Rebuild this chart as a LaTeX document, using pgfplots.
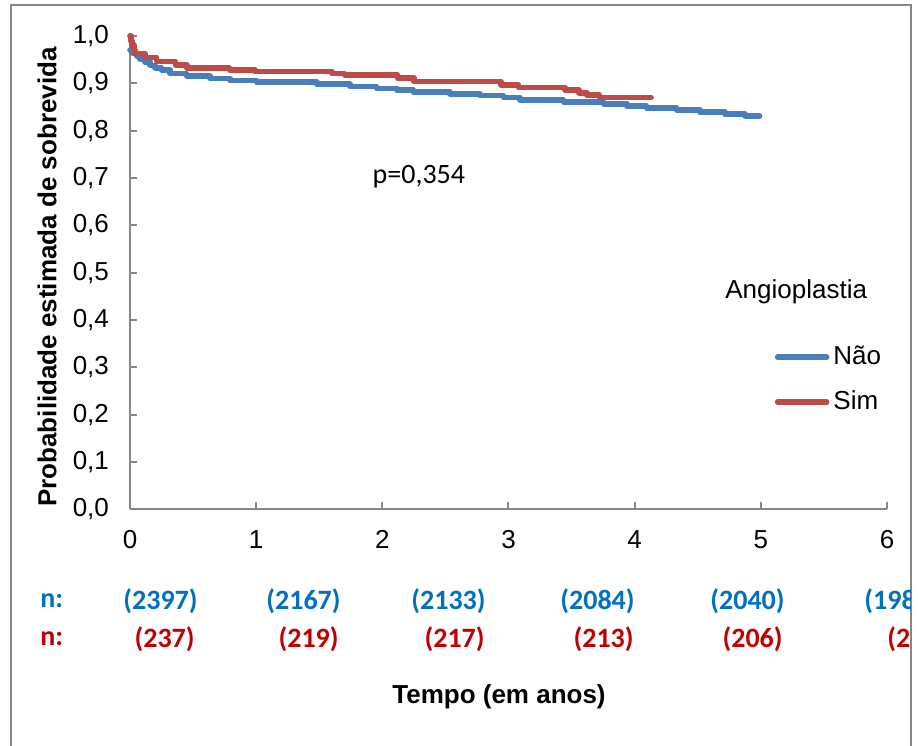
\documentclass[border=0pt]{standalone}
\usepackage{pgfplots}
\pgfplotsset{compat=1.18}
\usepackage{fontspec}
\setmainfont{Liberation Sans}
\newfontfamily\calibri{Carlito}
\definecolor{naoblue}{HTML}{4A7EBB}
\definecolor{simred}{HTML}{BE4B48}
\definecolor{nblue}{HTML}{0070C0}
\definecolor{nred}{HTML}{C00000}
\definecolor{axgray}{HTML}{868686}
\begin{document}
\begin{tikzpicture}
\path[use as bounding box] (0,0) rectangle (459pt,373pt);
\draw[axgray, line width=1pt] (5.5pt,-5pt) -- (5.5pt,370.5pt) -- (455.5pt,370.5pt) -- (455.5pt,-5pt);
\begin{axis}[
  at={(65pt,118.35pt)}, anchor=south west,
  scale only axis, width=378.5pt, height=236.65pt,
  xmin=0, xmax=6, ymin=0, ymax=1,
  axis x line=bottom, axis y line=left,
  axis line style={-, draw=axgray, line width=1pt},
  tick align=inside, major tick length=3.5pt,
  major tick style={draw=axgray, line width=1pt},
  xtick={0,1,2,3,4,5,6},
  ytick={0,0.1,0.2,0.3,0.4,0.5,0.6,0.7,0.8,0.9,1},
  tick label style={font=\fontsize{13}{15}\selectfont},
  /pgf/number format/assume math mode=true,
  yticklabel style={/pgf/number format/.cd,fixed,fixed zerofill,precision=1,use comma,/tikz/.cd, xshift=-7pt},
  xticklabel style={yshift=-7pt},
  clip=false,
  legend cell align=left,
  legend style={at={(axis cs:5.108,0.358)}, anchor=north west, draw=none, fill=none,
    inner sep=0pt, row sep=5.5pt, font=\fontsize{13}{15}\selectfont,
    nodes={inner sep=2pt, text height=10pt, text depth=3pt},
    /tikz/every even column/.append style={column sep=1.5pt}},
  legend image code/.code={\draw[#1,line cap=round] (0pt,0pt) -- (24.5pt,0pt);},
]
\addplot[naoblue, line width=2.8pt, const plot, line cap=round, line join=round] coordinates {
(0,0.970) (0.02,0.964) (0.05,0.958) (0.08,0.952) (0.12,0.945) (0.16,0.938) (0.20,0.933) (0.25,0.928)
(0.317,0.921) (0.449,0.9155) (0.634,0.9106) (0.793,0.9064) (1.004,0.9022) (1.48,0.898) (1.744,0.8937)
(1.955,0.8895) (2.114,0.8853) (2.246,0.8817) (2.536,0.8775) (2.774,0.8740) (2.959,0.8697) (3.09,0.8650)
(3.436,0.8605) (3.753,0.8563) (3.937,0.8521) (4.095,0.8478) (4.333,0.8436) (4.518,0.8394) (4.716,0.8352)
(4.875,0.8316) (4.99,0.8316)
};
\addlegendentry{Não}
\addplot[simred, line width=2.8pt, const plot, line cap=round, line join=round] coordinates {
(0,1.0) (0.008,0.99) (0.016,0.981) (0.03,0.970) (0.04,0.963) (0.12,0.955) (0.21,0.946) (0.36,0.939)
(0.45,0.933) (0.79,0.928) (0.99,0.925) (1.60,0.921) (1.70,0.918) (2.12,0.911) (2.25,0.904) (2.94,0.897)
(3.08,0.891) (3.45,0.886) (3.56,0.880) (3.62,0.875) (3.72,0.870) (4.13,0.870)
};
\addlegendentry{Sim}
\node[font=\calibri\fontsize{14}{16}\selectfont] at (axis cs:2.29,0.702) {p=0,354};
\node[anchor=west, inner sep=0pt, font=\fontsize{13}{15}\selectfont] at (axis cs:4.716,0.459) {Angioplastia};
\end{axis}
\node[rotate=90, font=\bfseries\fontsize{13}{15}\selectfont] at (23.5pt,234.5pt) {Probabilidade estimada de sobrevida};
\node[font=\bfseries\fontsize{13}{15}\selectfont] at (249.5pt,24.5pt) {Tempo (em anos)};
\begin{scope}
\clip (5.5pt,0pt) rectangle (455pt,373pt);
\begin{scope}[every node/.style={font=\calibri\bfseries\fontsize{14}{16}\selectfont, inner sep=0pt}]
\node[anchor=west, text=nblue] at (20pt,72.5pt) {n:};
\node[anchor=east, text=nblue] at (99pt,72.5pt) {(2397)};
\node[anchor=east, text=nblue] at (170.5pt,72.5pt) {(2167)};
\node[anchor=east, text=nblue] at (243pt,72.5pt) {(2133)};
\node[anchor=east, text=nblue] at (317.5pt,72.5pt) {(2084)};
\node[anchor=east, text=nblue] at (392.5pt,72.5pt) {(2040)};
\node[anchor=west, text=nblue] at (432pt,72.5pt) {(198};
\node[anchor=west, text=nred] at (20pt,53.5pt) {n:};
\node[anchor=east, text=nred] at (97.5pt,53.5pt) {(237)};
\node[anchor=east, text=nred] at (169.5pt,53.5pt) {(219)};
\node[anchor=east, text=nred] at (242.5pt,53.5pt) {(217)};
\node[anchor=east, text=nred] at (317pt,53.5pt) {(213)};
\node[anchor=east, text=nred] at (391.5pt,53.5pt) {(206)};
\node[anchor=west, text=nred] at (443.5pt,53.5pt) {(2};
\end{scope}
\end{scope}
\end{tikzpicture}
\end{document}
